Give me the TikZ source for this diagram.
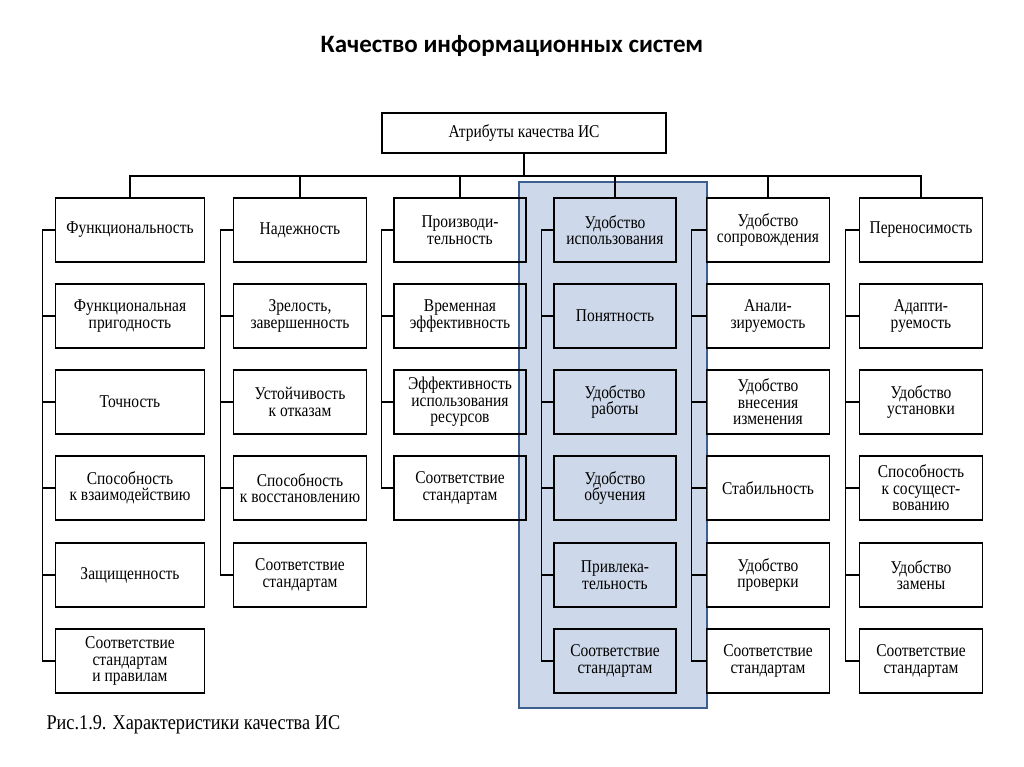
\documentclass[tikz,border=0pt]{standalone}
\usepackage{fontspec}
\setmainfont{Liberation Serif}
\newfontfamily\headfont{Carlito}
\newfontfamily\boxfont[FakeStretch=0.86]{Liberation Serif}
\newfontfamily\capfont[FakeStretch=0.87]{Liberation Serif}
\usepackage{xcolor}
\usepackage{tikz}
\definecolor{usebg}{HTML}{CDD9EA}
\definecolor{useframe}{HTML}{3D5F8F}
\tikzset{
	attr/.style={draw, line width=1.5pt, align=center, minimum height=64pt, inner sep=2pt, font=\boxfont\fontsize{18}{16.5}\selectfont},
	link/.style={line width=1.3pt}
}

\begin{document}
\begin{tikzpicture}[x=1pt, y=-1pt]
	\useasboundingbox (0,0) rectangle (1024,767);
	\node[anchor=base] (title) at (512,53) {\headfont\bfseries\fontsize{25}{28}\selectfont Качество информационных систем};
	% highlighted column
	\filldraw[fill=usebg, draw=useframe, line width=1.5pt] (519,182) rectangle (707,708);
	\node[attr, minimum width=284pt, minimum height=40pt] (attr) at (524,133) {Атрибуты качества ИС};
	% functionality
	\node[attr, minimum width=149pt] (fun0) at (130,230) {Функциональность};
	\node[attr, minimum width=149pt] (fun1) at (130,316) {Функциональная\\пригодность};
	\node[attr, minimum width=149pt] (fun2) at (130,402) {Точность};
	\node[attr, minimum width=149pt] (fun3) at (130,488) {Способность\\к взаимодействию};
	\node[attr, minimum width=149pt] (fun4) at (130,575) {Защищенность};
	\node[attr, minimum width=149pt] (fun5) at (130,661) {Соответствие\\стандартам\\и правилам};
	% reliability
	\node[attr, minimum width=133pt] (rel0) at (300,230) {Надежность};
	\node[attr, minimum width=133pt] (rel1) at (300,316) {Зрелость,\\завершенность};
	\node[attr, minimum width=133pt] (rel2) at (300,402) {Устойчивость\\к отказам};
	\node[attr, minimum width=133pt] (rel3) at (300,488) {Способность\\к восстановлению};
	\node[attr, minimum width=133pt] (rel4) at (300,575) {Соответствие\\стандартам};
	% performance
	\node[attr, minimum width=132pt] (perf0) at (460,230) {Производи-\\тельность};
	\node[attr, minimum width=132pt] (perf1) at (460,316) {Временная\\эффективность};
	\node[attr, minimum width=132pt] (perf2) at (460,402) {Эффективность\\использования\\ресурсов};
	\node[attr, minimum width=132pt] (perf3) at (460,488) {Соответствие\\стандартам};
	% usability
	\node[attr, minimum width=122pt] (use0) at (615,230) {Удобство\\использования};
	\node[attr, minimum width=122pt] (use1) at (615,316) {Понятность};
	\node[attr, minimum width=122pt] (use2) at (615,402) {Удобство\\работы};
	\node[attr, minimum width=122pt] (use3) at (615,488) {Удобство\\обучения};
	\node[attr, minimum width=122pt] (use4) at (615,575) {Привлека-\\тельность};
	\node[attr, minimum width=122pt] (use5) at (615,661) {Соответствие\\стандартам};
	% maintainability
	\node[attr, minimum width=123pt] (main0) at (768,230) {Удобство\\сопровождения};
	\node[attr, minimum width=123pt] (main1) at (768,316) {Анали-\\зируемость};
	\node[attr, minimum width=123pt] (main2) at (768,402) {Удобство\\внесения\\изменения};
	\node[attr, minimum width=123pt] (main3) at (768,488) {Стабильность};
	\node[attr, minimum width=123pt] (main4) at (768,575) {Удобство\\проверки};
	\node[attr, minimum width=123pt] (main5) at (768,661) {Соответствие\\стандартам};
	% portability
	\node[attr, minimum width=123pt] (port0) at (921,230) {Переносимость};
	\node[attr, minimum width=123pt] (port1) at (921,316) {Адапти-\\руемость};
	\node[attr, minimum width=123pt] (port2) at (921,402) {Удобство\\установки};
	\node[attr, minimum width=123pt] (port3) at (921,488) {Способность\\к сосущест-\\вованию};
	\node[attr, minimum width=123pt] (port4) at (921,575) {Удобство\\замены};
	\node[attr, minimum width=123pt] (port5) at (921,661) {Соответствие\\стандартам};
	% top bus
	\coordinate (bus) at (524,176);
	\draw[link] (attr.south) -- (bus);
	\draw[link] (fun0.north) -- (fun0.north |- bus) -- (port0.north |- bus) -- (port0.north);
	\draw[link] (rel0.north) -- (rel0.north |- bus);
	\draw[link] (perf0.north) -- (perf0.north |- bus);
	\draw[link] (use0.north) -- (use0.north |- bus);
	\draw[link] (main0.north) -- (main0.north |- bus);
	% branches
	\draw[link] (fun0.west) -- ++(-12,0) |- (fun5.west);
	\draw[link] (fun1.west) -- ++(-12,0) (fun2.west) -- ++(-12,0) (fun3.west) -- ++(-12,0) (fun4.west) -- ++(-12,0);
	\draw[link] (rel0.west) -- ++(-12,0) |- (rel4.west);
	\draw[link] (rel1.west) -- ++(-12,0) (rel2.west) -- ++(-12,0) (rel3.west) -- ++(-12,0);
	\draw[link] (perf0.west) -- ++(-12,0) |- (perf3.west);
	\draw[link] (perf1.west) -- ++(-12,0) (perf2.west) -- ++(-12,0);
	\draw[link] (use0.west) -- ++(-12,0) |- (use5.west);
	\draw[link] (use1.west) -- ++(-12,0) (use2.west) -- ++(-12,0) (use3.west) -- ++(-12,0) (use4.west) -- ++(-12,0);
	\draw[link] (main0.west) -- ++(-14,0) |- (main5.west);
	\draw[link] (main1.west) -- ++(-14,0) (main2.west) -- ++(-14,0) (main3.west) -- ++(-14,0) (main4.west) -- ++(-14,0);
	\draw[link] (port0.west) -- ++(-13,0) |- (port5.west);
	\draw[link] (port1.west) -- ++(-13,0) (port2.west) -- ++(-13,0) (port3.west) -- ++(-13,0) (port4.west) -- ++(-13,0);
	\node[anchor=base west] (caption) at (43,729) {\capfont\fontsize{21}{23}\selectfont Рис.1.9. Характеристики качества ИС};
\end{tikzpicture}
\end{document}
